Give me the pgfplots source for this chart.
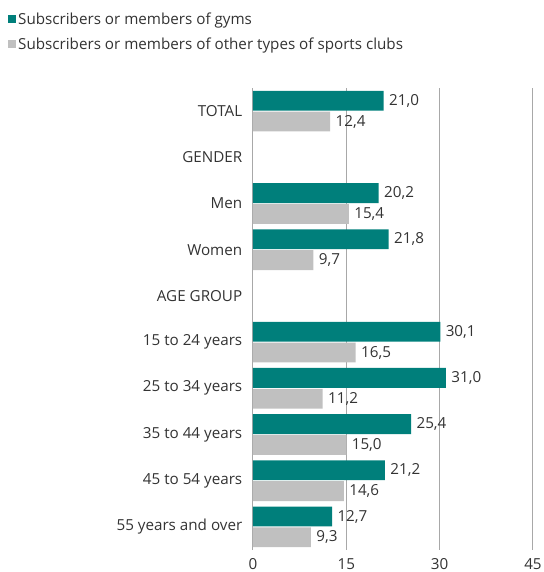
\documentclass[border=0pt]{standalone}
\usepackage{pgfplots}
\pgfplotsset{compat=1.18}
\usepackage{fontspec}
\setmainfont{Open Sans}
\definecolor{teal1}{HTML}{007F7B}
\definecolor{gray1}{HTML}{C0C0C0}
\definecolor{gridc}{HTML}{A8A8A8}
\definecolor{txt}{HTML}{333333}
\newcommand{\cf}{\fontsize{15.2bp}{18bp}\selectfont}
\begin{document}
\begin{tikzpicture}
\begin{axis}[
 at={(0,0)}, anchor=south west,
 scale only axis, width=280bp, height=462bp,
 xbar, bar width=0.43,
 xmin=0, xmax=45, ymin=-0.5, ymax=9.5, y dir=reverse,
 xtick={0,15,30,45}, ytick={0,...,9},
 yticklabels={TOTAL,GENDER,Men,Women,AGE GROUP,15 to 24 years,25 to 34 years,35 to 44 years,45 to 54 years,55 years and over},
 axis line style={draw=none},
 xmajorgrids, grid style={gridc, line width=1bp},
 tick style={draw=none},
 tick label style={font=\cf, text=txt},
 /pgf/number format/assume math mode=true,
 yticklabel style={xshift=-3bp},
 xticklabel style={yshift=-5bp},
 nodes near coords,
 nodes near coords style={font=\cf, text=txt, xshift=2bp, /pgf/number format/fixed, /pgf/number format/fixed zerofill, /pgf/number format/precision=1, /pgf/number format/use comma, /pgf/number format/assume math mode=true},
 legend style={draw=none, fill=none, at={(-0.875,1.168)}, anchor=north west, font=\cf, text=txt, row sep=8bp, inner sep=0pt},
 legend cell align=left,
 legend image code/.code={\fill[#1] (0bp,-4bp) rectangle (8bp,4bp);},
]
\addplot[fill=teal1, draw=none, bar shift=-0.225] coordinates {
 (21.0,0) (20.2,2) (21.8,3) (30.1,5) (31.0,6) (25.4,7) (21.2,8) (12.7,9)};
\addplot[fill=gray1, draw=none, bar shift=0.225] coordinates {
 (12.4,0) (15.4,2) (9.7,3) (16.5,5) (11.2,6) (15.0,7) (14.6,8) (9.3,9)};
\legend{Subscribers or members of gyms, Subscribers or members of other types of sports clubs}
\end{axis}
\pgfresetboundingbox
\path[use as bounding box] (-253bp,-22bp) rectangle (291bp,550bp);
\end{tikzpicture}
\end{document}
